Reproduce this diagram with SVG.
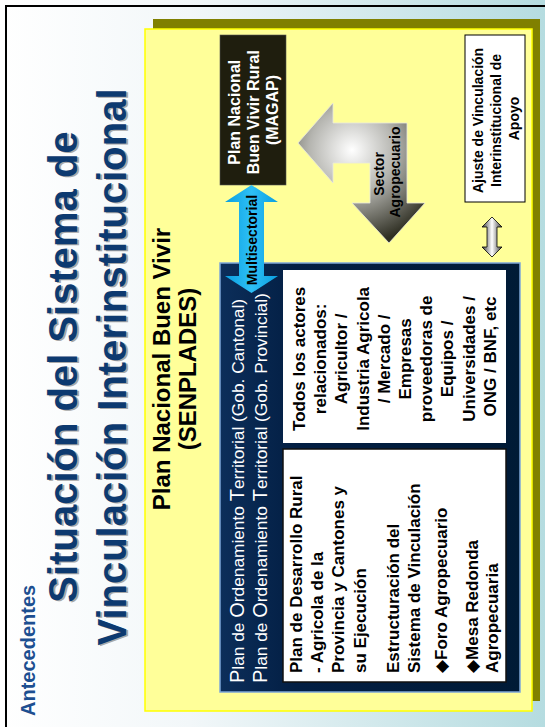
<svg xmlns="http://www.w3.org/2000/svg" width="545" height="727" viewBox="0 0 545 727">
<defs>
  <linearGradient id="bg" x1="0" y1="0" x2="1" y2="0">
    <stop offset="0" stop-color="#ffffff"/>
    <stop offset="0.35" stop-color="#f2f7f9"/>
    <stop offset="1" stop-color="#b5dce0"/>
  </linearGradient>
  <linearGradient id="navy" x1="0" y1="0" x2="1" y2="0">
    <stop offset="0" stop-color="#0c2e5a"/>
    <stop offset="0.25" stop-color="#031f44"/>
    <stop offset="1" stop-color="#001a36"/>
  </linearGradient>
  <radialGradient id="gray" gradientUnits="userSpaceOnUse" cx="352" cy="150" r="95">
    <stop offset="0" stop-color="#ffffff"/>
    <stop offset="0.45" stop-color="#b5b5b0"/>
    <stop offset="1" stop-color="#2e2e22"/>
  </radialGradient>
  <linearGradient id="small" x1="0" y1="0" x2="1" y2="0">
    <stop offset="0" stop-color="#3a3a3a"/>
    <stop offset="0.5" stop-color="#ffffff"/>
    <stop offset="1" stop-color="#3a3a3a"/>
  </linearGradient>
  <linearGradient id="cyan" x1="0" y1="0" x2="1" y2="0">
    <stop offset="0" stop-color="#0a9fe0"/>
    <stop offset="0.5" stop-color="#2ec0f6"/>
    <stop offset="1" stop-color="#0a9fe0"/>
  </linearGradient>
</defs>
<style>
  text{font-family:"Liberation Sans",Arial,"DejaVu Sans",sans-serif;font-weight:bold}
  .title{font-size:40px;fill:#0d3a70}
  .tshadow{font-size:40px;fill:#a8a8a8}
  .ante{font-size:20px;fill:#1d4f91}
  .head{font-size:24px;fill:#000}
  .hdr{font-size:17.3px;font-weight:normal;fill:#fff}
  .cap{font-size:20px}
  .body{font-size:17px;fill:#000}
  .magap{font-size:16px;fill:#fff}
  .lbl{font-size:14px;fill:#000}
</style>

<rect x="0" y="0" width="545" height="727" fill="url(#bg)"/>
<g id="frame">
  <rect x="5" y="5" width="540" height="2" fill="#000"/>
  <rect x="5" y="5" width="2" height="722" fill="#000"/>
</g>

<g id="panel">
  <rect x="153" y="19" width="387" height="682" fill="#808000"/>
  <rect x="145" y="29" width="387" height="682" fill="#ffff99" stroke="#ffff00" stroke-width="1.5"/>
</g>

<g id="navy-box">
  <rect x="220" y="263" width="300" height="429" fill="url(#navy)" stroke="#7ea7d8" stroke-width="1.5"/>
</g>
<g id="actores-box">
  <rect x="283" y="270" width="223" height="173" fill="#fff"/>
</g>
<g id="plan-desarrollo-box">
  <rect x="283" y="449" width="223" height="233" fill="#fff" stroke="#111" stroke-width="1.5"/>
</g>
<g id="magap-box">
  <rect x="220" y="35" width="66" height="150" fill="#1f1e0e" stroke="#555" stroke-width="0.6"/>
</g>
<g id="ajuste-box">
  <rect x="465" y="35" width="60" height="167" fill="#fff" stroke="#000" stroke-width="1"/>
</g>

<g id="connectors">
  <polygon points="251.5,185 278,202 264,202 264,276 278,276 251.5,293 225,276 239,276 239,202 225,202" fill="url(#cyan)"/>
  <polygon points="298,143 333,103 333,123 407,123 407,203 425,203 389,243 352,203 370,203 370,163 333,163 333,183" fill="url(#gray)" stroke="#e8e8e0" stroke-width="0.8"/>
  <polygon points="492,217 502,227 497,227 497,247 502,247 492,257 482,247 487,247 487,227 482,227" fill="url(#small)" stroke="#000" stroke-width="0.8"/>
</g>

<g id="texts" transform="matrix(0,-1,1,0,0,727)">
  <g id="title">
    <text class="tshadow" x="359" y="79" text-anchor="middle"><tspan x="359" y="79">Situación del Sistema de</tspan><tspan x="359" y="128">Vinculación Interinstitucional</tspan></text>
    <text class="title" x="360" y="77" text-anchor="middle"><tspan x="360" y="77">Situación del Sistema de</tspan><tspan x="360" y="126">Vinculación Interinstitucional</tspan></text>
  </g>
  <text id="antecedentes" class="ante" x="11" y="35">Antecedentes</text>
  <g id="heading">
    <text class="head" x="358" y="170" text-anchor="middle">Plan Nacional Buen Vivir</text>
    <text class="head" x="358" y="196" text-anchor="middle">(SENPLADES)</text>
  </g>
  <g id="navy-text">
    <text class="hdr" x="44" y="244"><tspan class="cap">P</tspan>lan de <tspan class="cap">O</tspan>rdenamiento <tspan class="cap">T</tspan>erritorial (Gob. Cantonal)</text>
    <text class="hdr" x="44" y="267"><tspan class="cap">P</tspan>lan de <tspan class="cap">O</tspan>rdenamiento <tspan class="cap">T</tspan>erritorial (Gob. Provincial)</text>
  </g>
  <text id="plan-desarrollo-text" class="body">
    <tspan x="54" y="302">Plan de Desarrollo Rural</tspan>
    <tspan x="54" y="323">- Agricola de la</tspan>
    <tspan x="54" y="344">Provincia y Cantones y</tspan>
    <tspan x="54" y="366">su Ejecución</tspan>
    <tspan x="54" y="399">Estructuración del</tspan>
    <tspan x="54" y="420">Sistema de Vinculación</tspan>
    <tspan x="54" y="447">◆Foro Agropecuario</tspan>
    <tspan x="54" y="478">◆Mesa Redonda</tspan>
    <tspan x="54" y="498">Agropecuaria</tspan>
  </text>
  <text id="actores-text" class="body" text-anchor="middle">
    <tspan x="370.5" y="305">Todos los actores</tspan>
    <tspan x="370.5" y="326">relacionados:</tspan>
    <tspan x="370.5" y="347">Agricultor /</tspan>
    <tspan x="370.5" y="369">Industria Agricola</tspan>
    <tspan x="370.5" y="390">/ Mercado /</tspan>
    <tspan x="370.5" y="411">Empresas</tspan>
    <tspan x="370.5" y="432">proveedoras de</tspan>
    <tspan x="370.5" y="453">Equipos /</tspan>
    <tspan x="370.5" y="475">Universidades /</tspan>
    <tspan x="370.5" y="496">ONG / BNF, etc</tspan>
  </text>
  <text id="multisectorial" class="lbl" x="487" y="257" text-anchor="middle">Multisectorial</text>
  <text id="magap-text" class="magap" text-anchor="middle">
    <tspan x="617" y="240">Plan Nacional</tspan>
    <tspan x="617" y="259">Buen Vivir  Rural</tspan>
    <tspan x="617" y="278">(MAGAP)</tspan>
  </text>
  <text id="sector-text" class="lbl" text-anchor="middle">
    <tspan x="555" y="384">Sector</tspan>
    <tspan x="555" y="400">Agropecuario</tspan>
  </text>
  <text id="ajuste-text" class="lbl" text-anchor="middle">
    <tspan x="608.5" y="483">Ajuste de Vinculación</tspan>
    <tspan x="608.5" y="501">Interinstitucional de</tspan>
    <tspan x="608.5" y="519">Apoyo</tspan>
  </text>
</g>
</svg>
